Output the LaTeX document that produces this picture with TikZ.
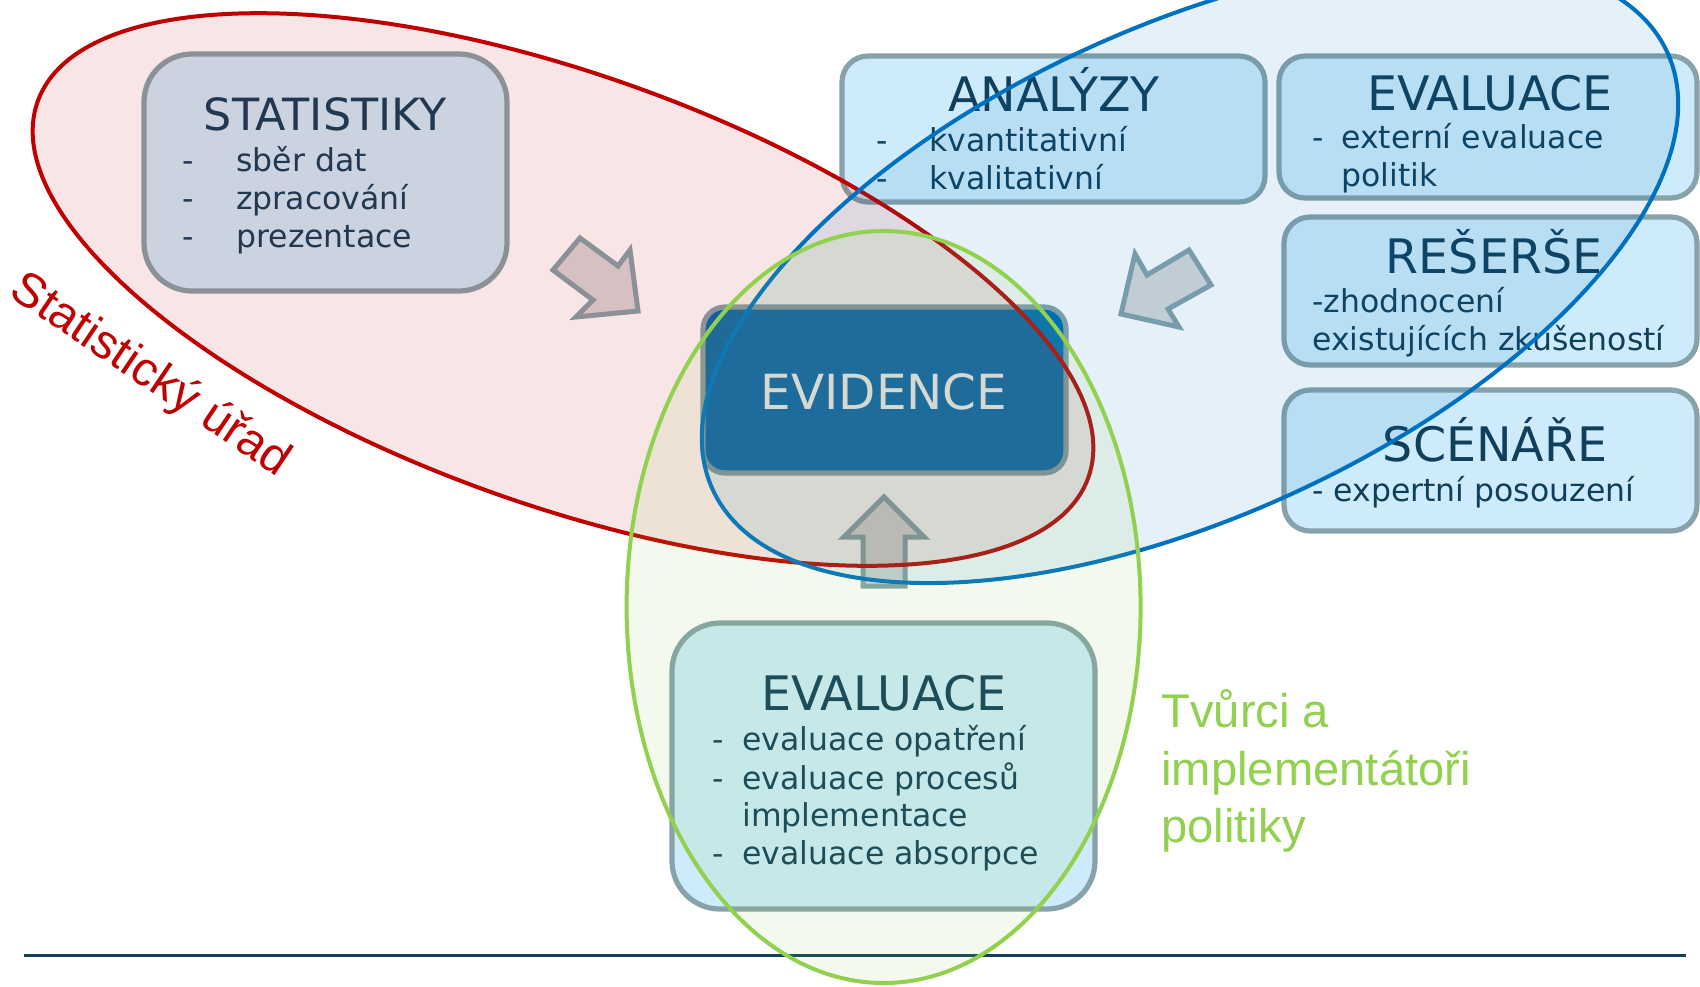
\documentclass[tikz,border=0pt]{standalone}
\usepackage{fontspec}
\setmainfont{DejaVu Sans}
\newfontfamily\arialf{Liberation Sans}
\definecolor{boxfill}{HTML}{CDEBFB}
\definecolor{boxline}{HTML}{87A2AA}
\definecolor{evfill}{HTML}{006CB4}
\definecolor{arrowfill}{HTML}{D8D8D8}
\definecolor{txt}{HTML}{0F3F5A}
\definecolor{redc}{HTML}{C00000}
\definecolor{bluec}{HTML}{0070C0}
\definecolor{greenc}{HTML}{92D050}
\definecolor{navy}{HTML}{123F5A}
\tikzset{
  box/.style={draw=boxline, line width=2.6pt, fill=boxfill, inner sep=0pt, outer sep=0pt},
  ttl/.style={font=\fontsize{23.75}{28}\selectfont, text=txt, inner sep=0pt, anchor=base},
  itm/.style={font=\fontsize{15.75}{19}\selectfont, text=txt, inner sep=0pt, anchor=base west},
  ell/.style={line width=2pt, fill opacity=0.1, draw opacity=1},
  blk/.style={draw=boxline, fill=arrowfill, line width=2.5pt, line join=miter},
  grn/.style={font=\arialf\fontsize{23.6}{28}\selectfont, text=greenc, inner sep=0pt, anchor=base west}
}
\begin{document}
\begin{tikzpicture}[x=0.5pt,y=-0.5pt]
\useasboundingbox (0,0) rectangle (1700,986);
\clip (0,0) rectangle (1700,986);
\fill[white] (0,0) rectangle (1700,986);

% boxes
\node[box, rounded corners=24pt, minimum width=181.5pt, minimum height=118.5pt] (stat) at (325.5,172.5) {};
\node[box, rounded corners=13pt, minimum width=211.5pt, minimum height=73pt] (anal) at (1053.5,129) {};
\node[box, rounded corners=13pt, minimum width=209pt, minimum height=71pt] (evtr) at (1488,127) {};
\node[box, rounded corners=13pt, minimum width=206.5pt, minimum height=74pt] (rese) at (1490.5,291) {};
\node[box, rounded corners=13pt, minimum width=206.5pt, minimum height=70.5pt] (scen) at (1490.5,460.5) {};
\node[box, fill=evfill, rounded corners=11pt, minimum width=181.5pt, minimum height=83pt] (evid) at (884.5,390) {};
\node[box, rounded corners=24pt, minimum width=211.5pt, minimum height=143pt] (evbt) at (883.5,766) {};

% block arrows
\draw[blk] (580,238) -- (553,270) -- (593,300) -- (576,317) -- (638,311) -- (630,250) -- (618,266) -- cycle;
\draw[blk] (1189,250) -- (1211,285) -- (1168,309) -- (1179,327) -- (1121,314) -- (1135,254) -- (1147,275) -- cycle;
\draw[blk] (884,497) -- (844,537) -- (863,537) -- (863,586) -- (905,586) -- (905,537) -- (924,537) -- cycle;

% texts
\node[ttl, font=\fontsize{22.2}{28}\selectfont] (t1) at (325,130) {STATISTIKY};
\node[itm] (t1a) at (182,171) {-};
\node[itm] (t1b) at (236,171) {sběr dat};
\node[itm] (t1c) at (182,209) {-};
\node[itm] (t1d) at (236,209) {zpracování};
\node[itm] (t1e) at (182,247) {-};
\node[itm] (t1f) at (236,247) {prezentace};

\node[ttl] (t2) at (1054,111) {ANALÝZY};
\node[itm] (t2a) at (876,151) {-};
\node[itm] (t2b) at (929,151) {kvantitativní};
\node[itm] (t2c) at (876,189) {-};
\node[itm] (t2d) at (929,189) {kvalitativní};

\node[ttl] (t3) at (1490,110) {EVALUACE};
\node[itm] (t3a) at (1312,148) {-};
\node[itm] (t3b) at (1341,148) {externí evaluace};
\node[itm] (t3c) at (1341,186) {politik};

\node[ttl] (t4) at (1494,273) {REŠERŠE};
\node[itm] (t4a) at (1312,312) {-zhodnocení};
\node[itm] (t4b) at (1312,350) {existujících zkušeností};

\node[ttl] (t5) at (1495,461) {SCÉNÁŘE};
\node[itm] (t5a) at (1312,501) {- expertní posouzení};

\node[ttl, text=white, font=\fontsize{24.2}{28}\selectfont] (t6) at (884,409) {EVIDENCE};

\node[ttl] (t7) at (884,710) {EVALUACE};
\node[itm] (t7a) at (712,750) {-};
\node[itm] (t7b) at (742,750) {evaluace opatření};
\node[itm] (t7c) at (712,789) {-};
\node[itm] (t7d) at (742,789) {evaluace procesů};
\node[itm] (t7e) at (742,826) {implementace};
\node[itm] (t7f) at (712,864) {-};
\node[itm] (t7g) at (742,864) {evaluace absorpce};

% bottom rule
\coordinate (l1) at (24,955);
\coordinate (l2) at (1686,955);
\draw[navy, line width=1.5pt] (l1) -- (l2);

% ellipses
\draw[ell, draw=redc, fill=redc, rotate around={-19.7:(563,289.5)}] (563,289.5) ellipse [x radius=558, y radius=215];
\draw[ell, draw=bluec, fill=bluec, rotate around={24.6:(1190,271)}] (1190,271) ellipse [x radius=525, y radius=245];
\draw[ell, draw=greenc, fill=greenc] (883.6,607) ellipse [x radius=257, y radius=376];

% labels
\node[font=\arialf\fontsize{24}{28}\selectfont, text=redc, rotate=-34, inner sep=0pt] (su) at (150,376) {Statistický úřad};
\node[grn] (g1) at (1161,727) {Tvůrci a};
\node[grn] (g2) at (1161,785) {implementátoři};
\node[grn] (g3) at (1161,842) {politiky};
\end{tikzpicture}
\end{document}
